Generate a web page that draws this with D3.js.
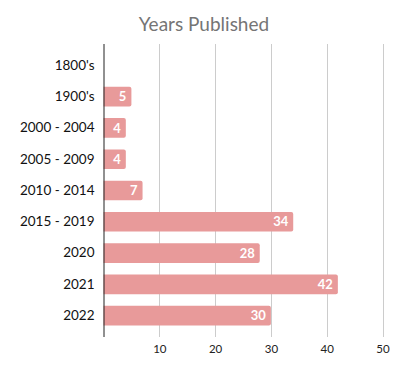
<!DOCTYPE html>
<html>
<head>
<meta charset="utf-8">
<script src="https://cdn.jsdelivr.net/npm/d3@7"></script>
<style>
  body { margin: 0; background: #fff; }
  svg { display: block; }
</style>
</head>
<body>
<div id="chart"></div>
<script>
// Years Published — horizontal bar chart
const CATEGORIES = ["1800's", "1900's", "2000 - 2004", "2005 - 2009", "2010 - 2014",
                    "2015 - 2019", "2020", "2021", "2022"];
const COUNTS     = [0, 5, 4, 4, 7, 34, 28, 42, 30];
const X_TICKS    = [10, 20, 30, 40, 50];

const W = 403, H = 371;
const margin = { top: 44, right: 20, bottom: 34, left: 103.5 };
const FONT = "Lato, 'Open Sans', sans-serif";
const BAR = "#e89a9a";

const svg = d3.select("#chart").append("svg")
  .attr("width", W).attr("height", H)
  .style("font-family", FONT);

const x = d3.scaleLinear().domain([0, 50]).range([margin.left, 382.5]);
const y = d3.scaleBand().domain(CATEGORIES)
  .range([margin.top, H - margin.bottom]).paddingInner(0.37).paddingOuter(0.37);

// title
svg.append("text")
  .attr("x", 204).attr("y", 31)
  .attr("text-anchor", "middle").attr("font-size", 19).attr("fill", "#757575")
  .text("Years Published");

// gridlines
svg.append("g")
  .selectAll("line").data(X_TICKS).join("line")
  .attr("x1", d => Math.round(x(d)) + 0.5).attr("x2", d => Math.round(x(d)) + 0.5)
  .attr("y1", margin.top).attr("y2", H - margin.bottom)
  .attr("stroke", "#cccccc").attr("stroke-width", 1);

// x tick labels
svg.append("g")
  .attr("transform", `translate(0,${H - margin.bottom})`)
  .call(d3.axisBottom(x).tickValues(X_TICKS).tickSize(0).tickPadding(8))
  .call(g => g.select(".domain").remove())
  .call(g => g.selectAll("text").attr("font-size", 11.5).attr("fill", "#222")
    .attr("font-family", FONT));

// bars with slightly rounded ends
const bars = CATEGORIES.map((c, i) => ({ cat: c, v: COUNTS[i] }));
svg.append("g")
  .selectAll("path").data(bars.filter(d => d.v > 0)).join("path")
  .attr("d", d => {
    const x0 = x(0), x1 = x(d.v), y0 = y(d.cat), h = y.bandwidth(), r = 2;
    return `M${x0},${y0}H${x1 - r}Q${x1},${y0} ${x1},${y0 + r}V${y0 + h - r}Q${x1},${y0 + h} ${x1 - r},${y0 + h}H${x0}Z`;
  })
  .attr("fill", BAR);

// value labels
svg.append("g")
  .selectAll("text").data(bars.filter(d => d.v > 0)).join("text")
  .attr("x", d => x(d.v) - 5)
  .attr("y", d => y(d.cat) + y.bandwidth() / 2)
  .attr("dy", "0.36em")
  .attr("text-anchor", "end")
  .attr("font-size", 13).attr("font-weight", "bold").attr("fill", "#fff")
  .text(d => d.v);

// y axis line + category labels
svg.append("g")
  .attr("transform", `translate(${margin.left},0)`)
  .call(d3.axisLeft(y).tickSize(0).tickPadding(9))
  .call(g => g.select(".domain").attr("stroke", "#222").attr("d", `M0.5,${margin.top}V${H - margin.bottom}`))
  .call(g => g.selectAll("text").attr("font-size", 13.5).attr("fill", "#111")
    .attr("font-family", FONT));
</script>
</body>
</html>
